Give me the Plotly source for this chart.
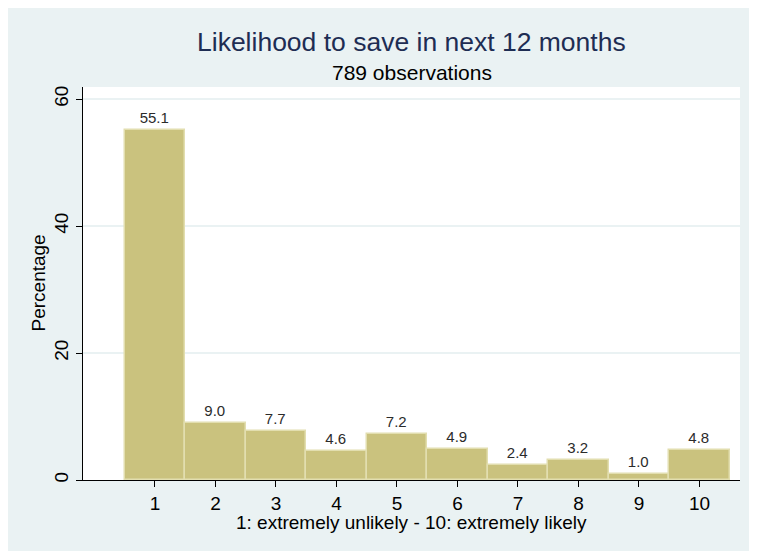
import plotly.graph_objects as go

categories = [1, 2, 3, 4, 5, 6, 7, 8, 9, 10]
percentages = [55.1, 9.0, 7.7, 4.6, 7.2, 4.9, 2.4, 3.2, 1.0, 4.8]
y_ticks = [0, 20, 40, 60]

W, H = 757, 551
# the page has an 8px body margin, so figure pixels = screen pixels - 8
L, R, T, B = 75, 25, 79, 79
pw = W - L - R
ph = H - T - B

# helpers: figure pixel position -> paper coordinates
def px_x(p):
    return (p - L) / pw

def px_y(p):
    return (H - B - p) / ph

fig = go.Figure(go.Bar(
    x=categories,
    y=percentages,
    width=1,
    marker=dict(color='#CAC27E', line=dict(color='#E2DEAF', width=1.5)),
    text=[f'{v:.1f}' for v in percentages],
    textposition='outside',
    textfont=dict(size=15, color='#2b2b2b'),
    cliponaxis=False,
))

fig.add_annotation(text='Likelihood to save in next 12 months', xref='paper', yref='paper',
                   x=0.5, y=px_y(34), xanchor='center', yanchor='middle', showarrow=False,
                   font=dict(size=26.5, color='#1E2D53'))
fig.add_annotation(text='789 observations', xref='paper', yref='paper',
                   x=0.5, y=px_y(64), xanchor='center', yanchor='middle', showarrow=False,
                   font=dict(size=21, color='black'))
fig.add_annotation(text='1: extremely unlikely - 10: extremely likely', xref='paper', yref='paper',
                   x=0.5, y=px_y(514), xanchor='center', yanchor='middle', showarrow=False,
                   font=dict(size=19, color='black'))
fig.add_annotation(text='Percentage', xref='paper', yref='paper', textangle=-90,
                   x=px_x(30), y=0.5, xanchor='center', yanchor='middle', showarrow=False,
                   font=dict(size=19, color='black'))

fig.update_layout(
    width=W, height=H,
    margin=dict(l=L, r=R, t=T, b=B),
    paper_bgcolor='#EAF2F3',
    plot_bgcolor='white',
    font=dict(family='Liberation Sans, Arial', color='black'),
    showlegend=False,
    bargap=0,
)

fig.update_xaxes(
    range=[-0.19, 10.67],
    tickvals=categories,
    ticks='outside', ticklen=6, tickcolor='black',
    showline=True, linecolor='black', linewidth=1,
    showgrid=False, zeroline=False,
    tickfont=dict(size=19),
    automargin=False,
)
fig.update_yaxes(
    range=[0, 61.9],
    tickvals=y_ticks,
    tickangle=-90,
    ticks='outside', ticklen=6, tickcolor='black',
    showline=True, linecolor='black', linewidth=1,
    showgrid=True, gridcolor='#EAF2F3', gridwidth=2,
    zeroline=False,
    tickfont=dict(size=19),
    automargin=False,
)

fig.write_html('out.html')
